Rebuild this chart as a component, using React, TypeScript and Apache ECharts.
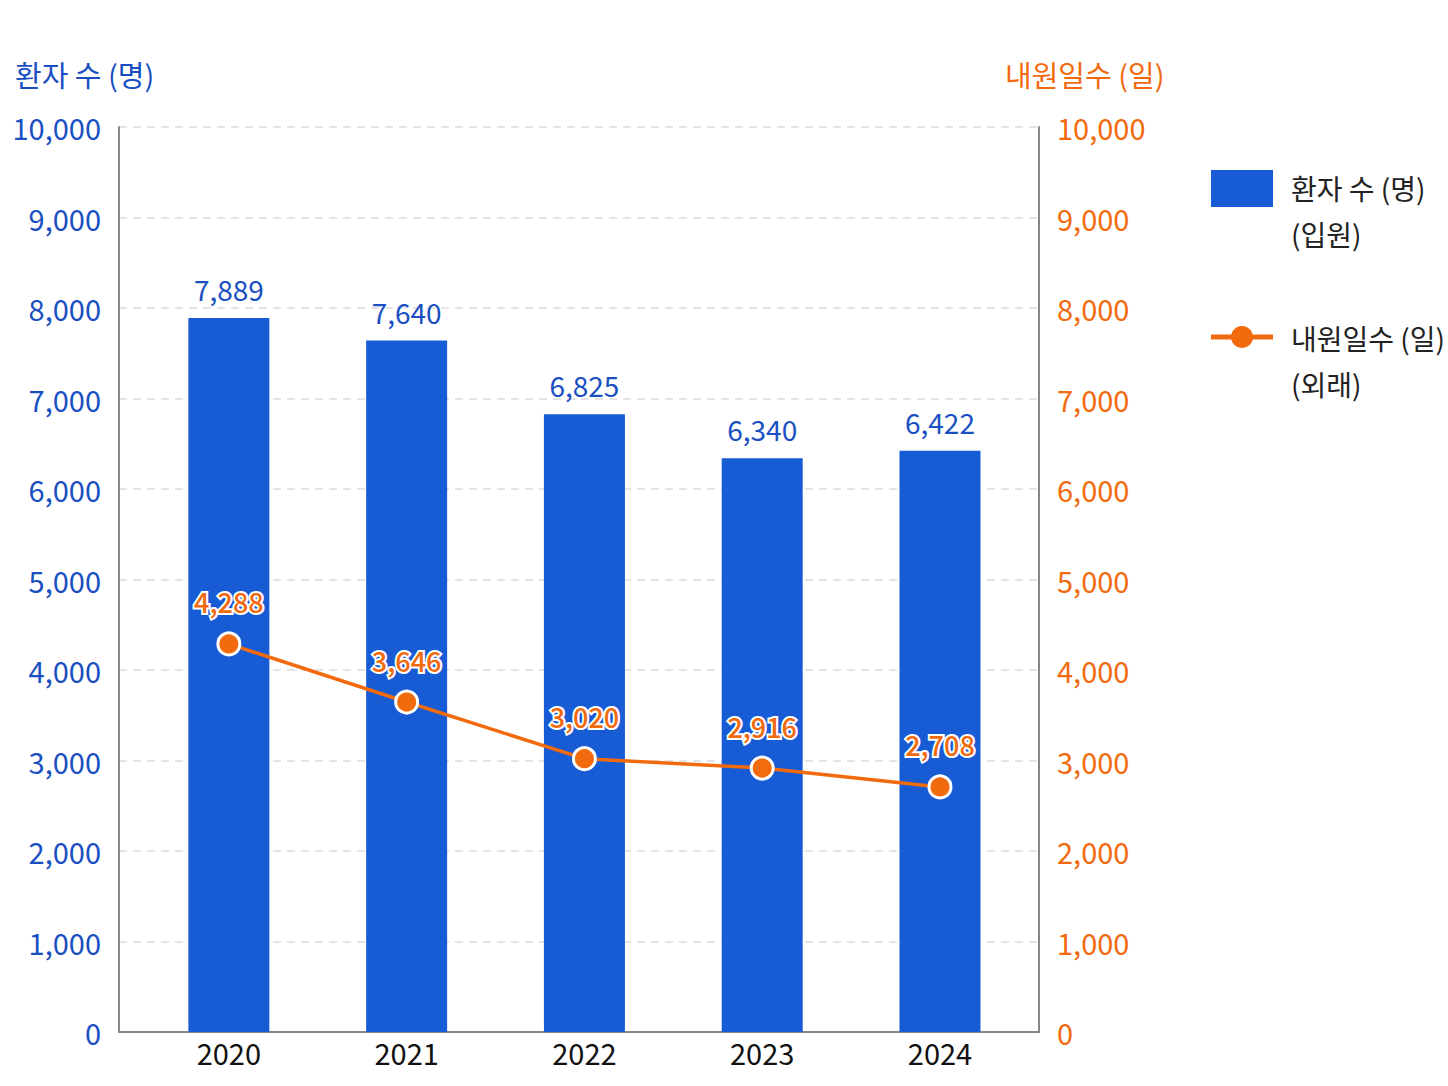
import React, { useEffect, useRef } from "react";
import * as echarts from "echarts";

const years = ["2020", "2021", "2022", "2023", "2024"];
const patients = [7889, 7640, 6825, 6340, 6422];
const visitDays = [4288, 3646, 3020, 2916, 2708];
const leftAxisName = "환자 수 (명)";
const rightAxisName = "내원일수 (일)";
const barLegend = ["환자 수 (명)", "(입원)"];
const lineLegend = ["내원일수 (일)", "(외래)"];

const BLUE = "#175bd5";
const BLUE_TEXT = "#1a4fc2";
const ORANGE = "#f26a0e";
const FONT = "'Noto Sans CJK KR', 'Noto Sans', sans-serif";

export default function App() {
  const ref = useRef<HTMLDivElement>(null);
  useEffect(() => {
    document.body.style.margin = "0";
    const chart = echarts.init(ref.current!, null, { renderer: "svg" });
    const fmt = (v: number) => v.toLocaleString("en-US");
    chart.setOption({
      animation: false,
      backgroundColor: "#ffffff",
      textStyle: { fontFamily: FONT },
      grid: { left: 119, right: 409, top: 127, bottom: 54 },
      xAxis: {
        type: "value",
        min: -0.618,
        max: 4.557,
        splitLine: { show: false },
        axisTick: { show: false },
        axisLine: { show: true, onZero: false, lineStyle: { color: "#888", width: 2 } },
        axisLabel: {
          showMinLabel: false,
          showMaxLabel: false,
          color: "#111",
          fontSize: 29,
          fontFamily: FONT,
          margin: 5,
          formatter: (v: number) =>
            Number.isInteger(v) && years[v] !== undefined ? years[v] : "",
        },
      },
      yAxis: [
        {
          type: "value",
          min: 0,
          max: 10000,
          interval: 1000,
          position: "left",
          axisLine: { show: true, onZero: false, lineStyle: { color: "#888", width: 2 } },
          axisTick: { show: false },
          splitLine: { show: true, lineStyle: { color: "#dcdcdc", type: [8, 6], width: 1.5 } },
          axisLabel: {
            color: BLUE_TEXT,
            fontSize: 29,
            fontFamily: FONT,
            margin: 18,
            padding: [0, 0, 6, 0],
            formatter: (v: number) => fmt(v),
          },
        },
        {
          type: "value",
          min: 0,
          max: 10000,
          interval: 1000,
          position: "right",
          axisLine: { show: true, onZero: false, lineStyle: { color: "#888", width: 2 } },
          axisTick: { show: false },
          splitLine: { show: false },
          axisLabel: {
            color: ORANGE,
            fontSize: 29,
            fontFamily: FONT,
            margin: 18,
            padding: [0, 0, 6, 0],
            formatter: (v: number) => fmt(v),
          },
        },
      ],
      series: [
        {
          name: barLegend.join("\n"),
          type: "bar",
          yAxisIndex: 0,
          barWidth: 81,
          itemStyle: { color: BLUE },
          data: patients.map((v, i) => [i, v]),
          label: {
            show: true,
            position: "top",
            distance: 15,
            color: BLUE_TEXT,
            fontSize: 28,
            fontFamily: FONT,
            formatter: (p: any) => fmt(p.value[1]),
          },
          z: 2,
        },
        {
          name: lineLegend.join("\n"),
          type: "line",
          yAxisIndex: 1,
          data: visitDays.map((v, i) => [i, v]),
          symbol: "circle",
          symbolSize: 22,
          lineStyle: { color: ORANGE, width: 3.5 },
          itemStyle: { color: ORANGE, borderColor: "#fff", borderWidth: 3 },
          label: {
            show: true,
            position: "top",
            distance: 16,
            color: ORANGE,
            fontSize: 27,
            fontWeight: 500,
            fontFamily: FONT,
            textBorderColor: "#fff",
            textBorderWidth: 4,
            formatter: (p: any) => fmt(p.value[1]),
          },
          z: 3,
        },
      ],
      graphic: [
        {
          type: "text",
          left: 15,
          top: 59,
          style: { text: leftAxisName, fill: BLUE_TEXT, font: `29px ${FONT}` },
        },
        {
          type: "text",
          left: 1005,
          top: 59,
          style: { text: rightAxisName, fill: ORANGE, font: `29px ${FONT}` },
        },
        {
          type: "rect",
          shape: { x: 1211, y: 170, width: 62, height: 37 },
          style: { fill: BLUE },
        },
        {
          type: "text",
          x: 1291,
          y: 165,
          style: {
            text: barLegend.join("\n"),
            fill: "#222",
            font: `28px ${FONT}`,
            lineHeight: 46,
            verticalAlign: "top",
          },
        },
        {
          type: "line",
          shape: { x1: 1211, y1: 337, x2: 1273, y2: 337 },
          style: { stroke: ORANGE, lineWidth: 5 },
        },
        {
          type: "circle",
          shape: { cx: 1242, cy: 337, r: 11 },
          style: { fill: ORANGE },
        },
        {
          type: "text",
          x: 1291,
          y: 315,
          style: {
            text: lineLegend.join("\n"),
            fill: "#222",
            font: `28px ${FONT}`,
            lineHeight: 46,
            verticalAlign: "top",
          },
        },
      ],
    });
    return () => chart.dispose();
  }, []);
  return <div ref={ref} style={{ width: 1448, height: 1086 }} />;
}
